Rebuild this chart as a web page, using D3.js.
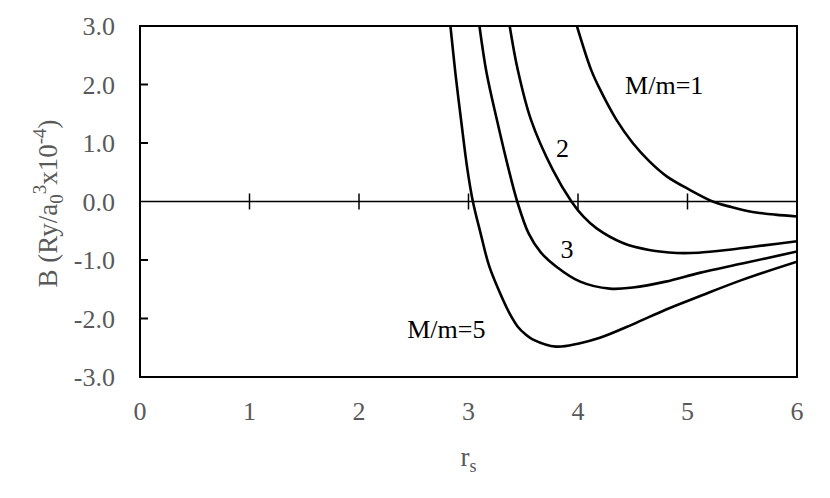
<!DOCTYPE html>
<html>
<head>
<meta charset="utf-8">
<title>B vs rs</title>
<style type="text/css">
body { margin: 0; background: #fff; }
</style>
<script src="https://cdn.jsdelivr.net/npm/d3@7"></script>
</head>
<body>
<script type="text/javascript">
var width = 830;
var height = 498;
var margin = {top: 26, right: 33, bottom: 121, left: 140};
var FONT = "'Liberation Serif', 'Times New Roman', 'DejaVu Serif', serif";

// r_s tick values, B tick values
var xTicks = [0, 1, 2, 3, 4, 5, 6];
var yTicks = [-3, -2, -1, 0, 1, 2, 3];

// curves (r_s, B)
var r1 = [3.99, 4.12, 4.20, 4.35, 4.50, 4.65, 4.81, 5.02, 5.23, 5.40, 5.57, 5.80, 6.00];
var b1 = [3.00, 2.25, 1.92, 1.40, 1.00, 0.69, 0.43, 0.20, 0.00, -0.095, -0.17, -0.225, -0.256];

var r2 = [3.376, 3.45, 3.57, 3.77, 3.94, 4.05, 4.17, 4.41, 4.65, 4.90, 5.10, 5.40, 5.70, 6.00];
var b2 = [3.00, 2.25, 1.40, 0.54, 0.00, -0.26, -0.46, -0.71, -0.83, -0.88, -0.875, -0.82, -0.75, -0.68];

var r3 = [3.10, 3.165, 3.265, 3.36, 3.445, 3.55, 3.66, 3.80, 4.02, 4.29, 4.50, 4.80, 5.11, 5.50, 6.00];
var b3 = [3.00, 2.20, 1.35, 0.60, 0.00, -0.55, -0.87, -1.11, -1.37, -1.49, -1.47, -1.37, -1.22, -1.06, -0.855];

var r5 = [2.835, 2.88, 2.935, 2.99, 3.04, 3.11, 3.19, 3.315, 3.38, 3.45, 3.52, 3.59, 3.80, 4.00, 4.20, 4.50, 4.80, 5.11, 5.50, 6.00];
var b5 = [3.00, 2.20, 1.35, 0.55, 0.00, -0.54, -1.11, -1.68, -1.93, -2.14, -2.27, -2.36, -2.48, -2.43, -2.33, -2.10, -1.85, -1.62, -1.34, -1.03];

var series = [
	{r: r1, b: b1},
	{r: r2, b: b2},
	{r: r3, b: b3},
	{r: r5, b: b5}
];

var labels = [
	{text: "M/m=1", r: 4.43, b: 1.83},
	{text: "2", r: 3.80, b: 0.76},
	{text: "3", r: 3.84, b: -0.97},
	{text: "M/m=5", r: 2.44, b: -2.34}
];

var svg = d3.select("body").append("svg")
	.attr("width", width)
	.attr("height", height)
	.attr("font-family", FONT);

var x = d3.scaleLinear().domain([0, 6]).range([margin.left, width - margin.right]);
var y = d3.scaleLinear().domain([-3, 3]).range([height - margin.bottom, margin.top]);

svg.append("defs").append("clipPath").attr("id", "clip")
	.append("rect")
	.attr("x", x(0)).attr("y", y(3))
	.attr("width", x(6) - x(0)).attr("height", y(-3) - y(3));

// zero line
svg.append("line")
	.attr("x1", x(0)).attr("x2", x(6))
	.attr("y1", y(0)).attr("y2", y(0))
	.attr("stroke", "#000").attr("stroke-width", 1.5);

// x ticks on the zero line
svg.selectAll(".xt").data(xTicks.filter(function(d){ return d > 0 && d < 6; }))
	.enter().append("line")
	.attr("x1", function(d){ return x(d); }).attr("x2", function(d){ return x(d); })
	.attr("y1", y(0) - 8).attr("y2", y(0) + 8)
	.attr("stroke", "#000").attr("stroke-width", 1.5);

// y ticks inside the left edge
svg.selectAll(".yt").data(yTicks.filter(function(d){ return d != 0 && Math.abs(d) < 3; }))
	.enter().append("line")
	.attr("x1", x(0)).attr("x2", x(0) + 8)
	.attr("y1", function(d){ return y(d); }).attr("y2", function(d){ return y(d); })
	.attr("stroke", "#000").attr("stroke-width", 2);

// curves
var line = d3.line()
	.x(function(d){ return x(d[0]); })
	.y(function(d){ return y(d[1]); })
	.curve(d3.curveCatmullRom.alpha(0.5));

svg.append("g").attr("clip-path", "url(#clip)")
	.selectAll("path").data(series).enter().append("path")
	.attr("d", function(s){ return line(d3.zip(s.r, s.b)); })
	.attr("fill", "none")
	.attr("stroke", "#000")
	.attr("stroke-width", 2.6);

// frame
svg.append("rect")
	.attr("x", x(0)).attr("y", y(3))
	.attr("width", x(6) - x(0)).attr("height", y(-3) - y(3))
	.attr("fill", "none").attr("stroke", "#000").attr("stroke-width", 2);

// tick labels
svg.selectAll(".xl").data(xTicks).enter().append("text")
	.attr("x", function(d){ return x(d); })
	.attr("y", 420)
	.attr("text-anchor", "middle")
	.attr("font-size", 26)
	.attr("fill", "#595959")
	.text(function(d){ return d; });

svg.selectAll(".yl").data(yTicks).enter().append("text")
	.attr("x", 115)
	.attr("y", function(d){ return y(d) + 9; })
	.attr("text-anchor", "end")
	.attr("font-size", 26)
	.attr("fill", "#595959")
	.text(function(d){ return d3.format(".1f")(d).replace("−", "-"); });

// axis titles
var xt = svg.append("text")
	.attr("x", (x(0) + x(6)) / 2)
	.attr("y", 466)
	.attr("text-anchor", "middle")
	.attr("font-size", 27)
	.attr("fill", "#595959");
xt.append("tspan").text("r");
xt.append("tspan").attr("font-size", 18).attr("dy", 6).text("s");

var yt = svg.append("text")
	.attr("transform", "translate(57," + ((y(3) + y(-3)) / 2 + 2) + ") rotate(-90)")
	.attr("text-anchor", "middle")
	.attr("font-size", 27)
	.attr("fill", "#595959");
yt.append("tspan").text("B (Ry/a");
yt.append("tspan").attr("font-size", 19).attr("dy", 6).text("0");
yt.append("tspan").attr("font-size", 19).attr("dy", -17).text("3");
yt.append("tspan").attr("dy", 11).text("x10");
yt.append("tspan").attr("font-size", 19).attr("dy", -11).text("-4");
yt.append("tspan").attr("dy", 11).text(")");

// curve labels
svg.selectAll(".cl").data(labels).enter().append("text")
	.attr("x", function(d){ return x(d.r); })
	.attr("y", function(d){ return y(d.b); })
	.attr("font-size", 26)
	.attr("fill", "#000")
	.text(function(d){ return d.text; });
</script>
</body>
</html>
